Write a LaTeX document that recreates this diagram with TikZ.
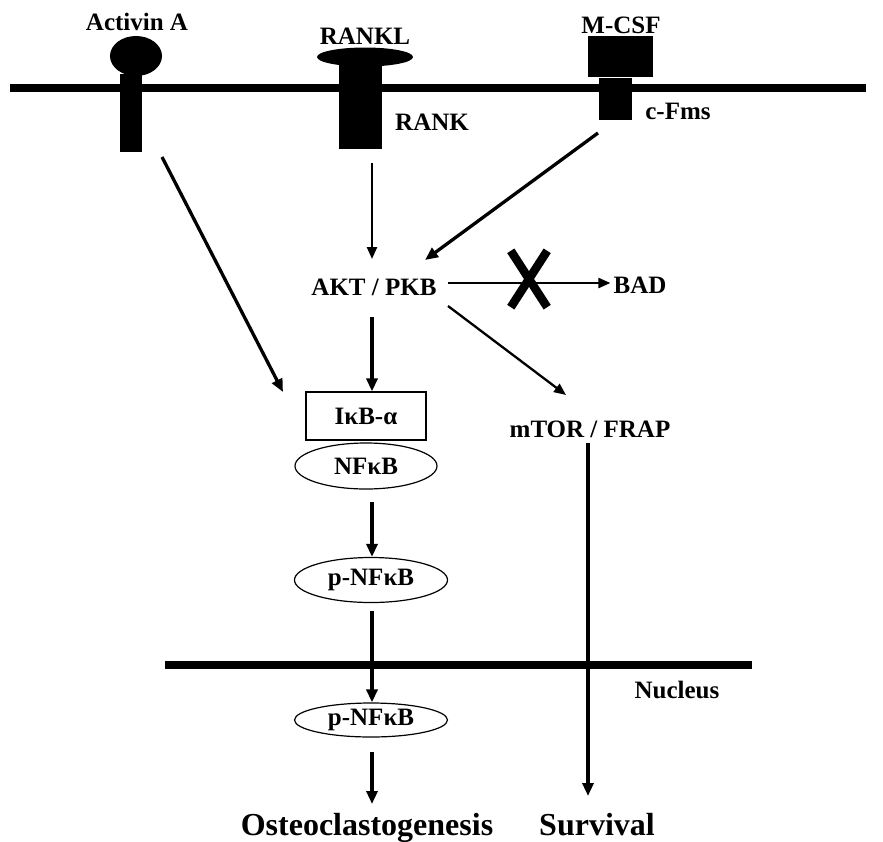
\documentclass[tikz,border=0pt]{standalone}
\usepackage{fontspec}
\setmainfont{Liberation Serif}
\usetikzlibrary{arrows.meta,shapes.geometric}
\begin{document}
\begin{tikzpicture}[x=1pt,y=-1pt,
  lbl/.style={font=\bfseries\fontsize{25}{25}\selectfont, inner sep=0pt, anchor=base},
  biglbl/.style={font=\bfseries\fontsize{32}{32}\selectfont, inner sep=0pt, anchor=base},
  blk/.style={fill=black, draw=none, inner sep=0pt},
  arr/.style={line width=3.3pt, -{Triangle[length=13pt,width=11pt]}},
  thinarr/.style={line width=2.3pt, -{Triangle[length=12pt,width=10pt]}},
  mem/.style={line width=8pt},
  oval/.style={ellipse, draw, line width=1.2pt, inner sep=0pt, font=\bfseries\fontsize{25}{25}\selectfont},
]
\useasboundingbox (0,0) rectangle (883,841);
% membranes
\coordinate (m1) at (10,88);
\coordinate (m2) at (866,88);
\draw[mem] (m1) -- (m2);
\coordinate (n1) at (165,665);
\coordinate (n2) at (752,665);
\draw[mem] (n1) -- (n2);

% Activin A
\node[lbl] (actlab) at (137,30) {Activin A};
\node[blk, ellipse, minimum width=52pt, minimum height=40pt] (actlig) at (136,56) {};
\node[blk, rectangle, minimum width=22pt, minimum height=78pt] (actrec) at (131,113) {};

% RANKL / RANK
\node[lbl] (rankllab) at (365,44) {RANKL};
\node[blk, ellipse, minimum width=96pt, minimum height=19pt] (ranklig) at (365,57) {};
\node[blk, rectangle, minimum width=43pt, minimum height=84pt] (rankrec) at (360,107) {};
\node[lbl] (ranklab) at (432,130) {RANK};

% M-CSF / c-Fms
\node[lbl] (mcsflab) at (621,33) {M-CSF};
\node[blk, rectangle, minimum width=65pt, minimum height=41pt] (mcsflig) at (620,56) {};
\node[blk, rectangle, minimum width=33pt, minimum height=42pt] (cfmsrec) at (615,99) {};
\node[lbl] (cfmslab) at (678,119) {c-Fms};

% pathway nodes
\node[lbl] (akt) at (374,295) {AKT / PKB};
\node[lbl] (bad) at (640,293) {BAD};
\node[lbl] (mtor) at (590,437) {mTOR / FRAP};
\node[draw, line width=1.2pt, minimum width=120pt, minimum height=48pt, inner sep=0pt,
      font=\bfseries\fontsize{25}{25}\selectfont] (ikb) at (366,416) {IκB-α};
\node[oval, minimum width=142pt, minimum height=46pt] (nfkb) at (366,466) {NFκB};
\node[oval, minimum width=153pt, minimum height=45pt] (pnfkb1) at (371,580) {p-NFκB};
\node[oval, minimum width=153pt, minimum height=34pt] (pnfkb2) at (371,720) {p-NFκB};
\node[lbl] (nuc) at (677,698) {Nucleus};
\node[biglbl] (osteo) at (367,835) {Osteoclastogenesis};
\node[biglbl] (surv) at (597,835) {Survival};

% arrows
\coordinate (actstart) at (162,157);
\coordinate (actend) at (283,392);
\draw[arr] (actstart) -- (actend);
\coordinate (rankstart) at (372,163);
\coordinate (rankend) at (372,259);
\draw[thinarr] (rankstart) -- (rankend);
\coordinate (cfstart) at (598,133);
\coordinate (cfend) at (425,260);
\draw[arr] (cfstart) -- (cfend);
\coordinate (badstart) at (448,283);
\draw[thinarr] (badstart) -- ([xshift=-3pt]bad.west |- badstart);
\coordinate (mtstart) at (448,306);
\coordinate (mtend) at (566,395);
\draw[thinarr] (mtstart) -- (mtend);
\coordinate (aktdown) at (372,317);
\draw[arr] (aktdown) -- (ikb.north -| aktdown);
\coordinate (nfdown) at (372,502);
\draw[arr] (nfdown) -- (pnfkb1.north -| nfdown);
\coordinate (p1down) at (372,611);
\draw[arr] (p1down) -- (pnfkb2.north -| p1down);
\coordinate (p2down) at (372,752);
\coordinate (p2end) at (372,804);
\draw[arr] (p2down) -- (p2end);
\coordinate (mtdown) at (588,443);
\coordinate (mtdownend) at (588,796);
\draw[arr] (mtdown) -- (mtdownend);

% X mark
\node[inner sep=0pt, minimum width=36pt, minimum height=56pt] (cross) at (529,279) {};
\draw[line width=8.5pt] (cross.north west) -- (cross.south east);
\draw[line width=8.5pt] (cross.north east) -- (cross.south west);
\end{tikzpicture}
\end{document}
